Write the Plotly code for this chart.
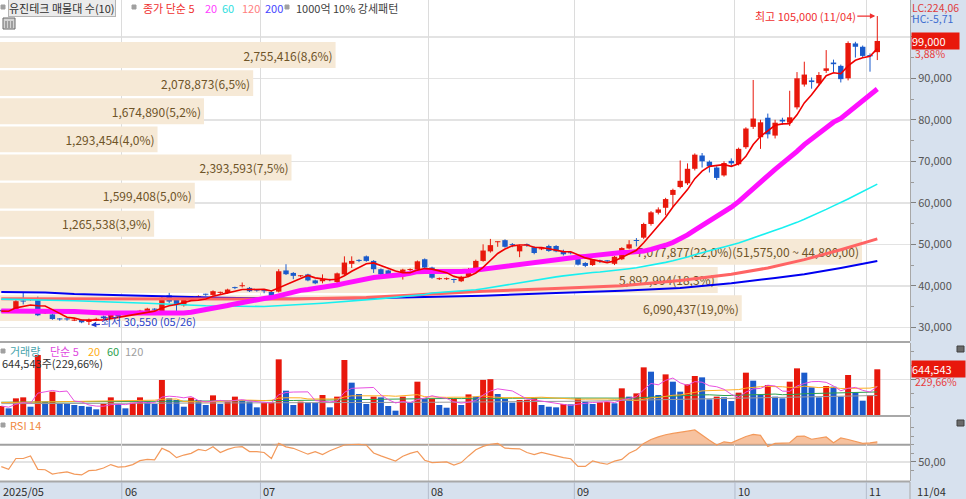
import numpy as np
import pandas as pd
import plotly.graph_objects as go

FONT = "Noto Sans CJK KR"
W, H = 966, 499
PR = 910  # right edge of the plotting area (px)

# ---------------- data ----------------
holidays = ["2025-05-05", "2025-05-06", "2025-06-03", "2025-06-06", "2025-08-15",
            "2025-10-03", "2025-10-06", "2025-10-07", "2025-10-08", "2025-10-09"]
dates = [d for d in pd.bdate_range("2025-05-08", "2025-11-04")
         if d.strftime("%Y-%m-%d") not in holidays]

opens = [34000,33900,33800,36400,36600,36900,33400,33100,32000,32000,
         31600,31800,31300,31800,32600,32200,33500,33100,33500,33400,
         33500,34350,33900,37700,36700,35300,36600,36700,37900,37800,
         38300,38300,39500,39900,39500,38900,38800,38500,38600,43700,
         43100,42300,42750,41300,41100,41500,40900,42750,45300,46100,
         47100,46000,44000,43700,42700,42300,43800,43900,46400,44400,
         41600,41600,41500,41100,42350,44050,46000,48300,50500,51000,
         49900,48300,49900,49300,48800,49600,49600,48400,47950,47200,
         45500,45000,46100,46000,45300,46400,49000,51000,51600,54900,
         57600,58800,61900,63800,64700,68200,71400,69900,68500,66600,
         70100,69300,73400,78300,75800,80500,76200,80000,79300,83000,
         88500,89500,88800,91800,93800,93000,90000,98400,97600,95600,
         96300]
highs = [34300,34100,36700,38300,36900,37400,33700,33300,32200,32200,
         32000,31900,32100,32300,32800,33500,33700,33500,33800,34200,
         34700,34600,37300,38300,36900,36900,37000,37700,38100,38900,
         38600,39300,39800,40800,39700,39100,39100,38700,44000,45200,
         43300,42600,42900,41500,42750,41700,43200,47100,47100,46400,
         47300,46200,44200,43900,42900,44100,44200,46100,46600,44600,
         42000,42000,41700,42400,44300,46300,50000,51300,50700,51200,
         50300,49900,50200,49500,49200,49900,49800,48700,48200,47400,
         45700,46400,46300,46200,47200,49300,51000,51500,55200,58000,
         58900,61200,63400,70200,69500,71900,72000,70200,68800,70000,
         70700,73300,78200,89600,80000,81500,80000,80500,87000,91500,
         94000,90200,91500,96800,94500,93300,98900,98800,97900,96000,
         105000]
lows = [33600,33700,33600,35500,36400,32700,33200,31800,31600,31600,
        31500,31000,30550,31500,32000,32000,32300,32900,33200,33200,
        33300,34000,33700,35800,33000,35000,36400,36500,37600,37600,
        38000,38100,39200,39600,38500,38600,38200,37400,38400,42600,
        41600,42100,41100,40400,40600,41100,40600,42500,44300,45700,
        45800,43100,42500,42300,42400,41500,43500,43700,44200,41700,
        41400,41400,40700,40900,42100,43900,45800,48000,49400,49200,
        49300,46900,49400,47600,48600,48200,48100,47300,47600,44900,
        44500,44800,45500,45600,45000,46200,48800,49500,51300,54500,
        57200,57000,59000,63500,64300,67800,68500,67300,65500,66300,
        68900,69000,73000,77800,73000,75500,75500,78800,78500,82500,
        88000,87500,88300,91300,91500,89000,89500,95000,95000,91600,
        94400]
closes = [33900,33850,36300,36200,36700,32900,33500,32000,31900,31900,
          31800,31200,31800,32000,32200,33300,32600,33300,33450,34000,
          34500,34250,37100,36200,35400,36700,36750,37500,37850,38700,
          38350,39100,39450,40000,38700,38850,38700,37600,43500,42800,
          42400,42450,41300,40600,41600,41400,43000,45600,46000,46000,
          46000,44000,42750,42550,42600,43900,43950,45900,44400,41950,
          41800,41800,41400,42200,44050,46000,48500,49800,50600,49400,
          49800,49600,49800,47900,48950,48400,48300,47600,47850,45100,
          44800,46200,45900,45900,47000,49100,50000,50800,54900,57700,
          58400,60900,63100,65300,68200,71600,70000,68800,66000,69600,
          69500,73000,77900,80300,79400,76500,79300,79600,80600,90000,
          90900,89100,90800,92400,93400,89800,98500,97600,95400,95300,
          99000]
volumes = [127000,94000,235000,249000,117000,846000,188000,329000,165000,160000,
           141000,127000,117000,80000,155000,249000,155000,94000,174000,249000,
           193000,155000,494000,235000,212000,117000,244000,212000,141000,277000,
           155000,188000,259000,202000,188000,108000,174000,176000,785000,343000,
           141000,188000,174000,170000,282000,108000,259000,776000,456000,296000,
           155000,259000,249000,127000,61000,259000,174000,470000,225000,230000,
           141000,103000,226000,141000,291000,259000,495000,505000,296000,226000,
           174000,212000,215000,235000,141000,117000,108000,155000,150000,235000,
           188000,155000,180000,185000,165000,376000,259000,305000,672000,611000,
           282000,573000,470000,329000,432000,550000,531000,221000,259000,250000,
           197000,315000,597000,484000,282000,423000,259000,235000,470000,658000,
           597000,390000,249000,409000,400000,259000,564000,315000,202000,280651,
           644543]
rsi = [44.6,41.5,54,54,57,41.5,41,36,37.5,38.5,
       36,35,40,40.5,43,47,44,44.6,47,51.5,
       53,52.5,65.8,62,55,58,60,64.5,63,67.7,
       61,64.6,67,67.7,62,62,61,54,71.6,67.5,
       65.8,62,59,62,58.5,63,66,69.6,70.2,70.4,
       69.6,60.4,57,54,51.1,56.7,60,62.2,52,49.3,
       49.8,50,46.3,49.3,57,64.1,68,70.5,71.5,65.9,
       65.5,65.2,61,58.5,61.1,59,57.5,55,53.7,44.8,
       44.8,51.1,49,47.4,51,53,60,64.1,71.5,76,
       79,81.5,83,84,85.6,87,80.7,75,69.6,73.3,
       72.2,76,79.5,81.9,80.7,67.8,71.5,71.8,72.2,79.6,
       80,76.3,77.5,78.9,72.2,77.8,76,73.3,71.5,72,73.3]

ma20_head_x = [0, 5, 10, 14, 18]
ma20_head = [33900, 34000, 33800, 33450, 33450]
ma60_head_x = [0, 10, 20, 28, 36, 44, 52, 58]
ma60_head = [36800, 36400, 35800, 35200, 35000, 35800, 36900, 37900]
ma120_x = [0, 20, 40, 50, 58, 66, 75, 85, 93, 100, 105, 110, 115, 120]
ma120 = [36900, 36800, 36800, 37200, 37900, 38700, 39300, 40000, 41300, 42800, 44300, 46300, 48700, 51300]
ma200_x = [0, 6, 10, 22, 30, 40, 50, 58, 66, 75, 85, 93, 100, 106, 110, 115, 120]
ma200 = [38500, 38400, 38000, 37500, 37100, 36900, 37000, 37300, 37600, 38200, 38800, 39500, 40600, 41900, 42800, 44300, 46000]
vma20_head_x = [0, 6, 12, 18]
vma20_head = [175000, 185000, 195000, 200000]
vma60_head_x = [0, 20, 40, 58]
vma60_head = [180000, 190000, 205000, 230000]
vma120_x = [0, 30, 60, 80, 98, 110, 120]
vma120 = [160000, 165000, 180000, 195000, 235000, 255000, 275000]

# volume profile (매물대), 10 price bands
vp_lo = [31250, 38025, 44800, 51575, 58350, 65125, 71900, 78675, 85450, 92225]
vp_step = 6775
vp_vol = [6090437, 5892994, 7077877, 1265538, 1599408, 2393593, 1293454, 1674890, 2078873, 2755416]

price_ticks = [30000, 40000, 50000, 60000, 70000, 80000, 90000, 100000]
price_tick_labels = ["30,000", "40,000", "50,000", "60,000", "70,000", "80,000", "90,000", "100,000"]
rsi_ticks = [50]
rsi_tick_labels = ["50,00"]

# ---------------- geometry / style ----------------
n = len(dates)
idx = list(range(n))
RED = "#e8180c"
BLUE = "#1b5bcb"
X_LO, X_HI = -0.18, 124.48
P_LO, P_HI = 26700, 108870
V_HI = 1015500
R_LO, R_HI = 28, 102
VP_MAX = 7472000


def py(y):
    return 1 - y / H


def pxf(x):
    return x / W


D_PRICE = [py(341), 1]
D_VOL = [py(415), py(343)]
D_RSI = [py(481), py(417)]
XDOM = [0, PR / W]

month_bounds = [i - 0.5 for i in range(1, n) if dates[i].month != dates[i - 1].month]
month_labels = [f"{dates[0].year}/{dates[0].month:02d}"] + \
               [f"{dates[i].month:02d}" for i in range(1, n) if dates[i].month != dates[i - 1].month]

fig = go.Figure()

# volume profile bars (base axis, drawn below candles)
total = sum(vp_vol)
vp_text = []
for lo, v in zip(vp_lo, vp_vol):
    pct = f"{v / total * 100:.1f}".replace(".", ",")
    t = f"{v:,}({pct}%)"
    if v == max(vp_vol):
        t += f"({lo + vp_step:,},00 ~ {lo:,},00)"
    vp_text.append(t)
fig.add_trace(go.Bar(
    x=vp_vol, y=[lo + vp_step / 2 for lo in vp_lo], orientation="h",
    width=vp_step * 0.92, marker=dict(color="#f6e9d6", line=dict(width=0)),
    text=vp_text, textposition="inside", insidetextanchor="end", textangle=0,
    constraintext="none",
    textfont=dict(color="#6e5428", size=12, family=FONT),
    insidetextfont=dict(color="#6e5428", size=12, family=FONT),
    xaxis="x", yaxis="y", hoverinfo="skip"))

# candles
up = [c >= o for o, c in zip(opens, closes)]
for flag, col in ((True, RED), (False, BLUE)):
    xs, ys = [], []
    for i in idx:
        if up[i] == flag:
            xs += [i, i, None]
            ys += [lows[i], highs[i], None]
    fig.add_trace(go.Scatter(x=xs, y=ys, mode="lines", line=dict(color=col, width=1),
                             xaxis="x2", yaxis="y", hoverinfo="skip"))
body_base = [min(o, c) for o, c in zip(opens, closes)]
body_h = [max(abs(c - o), 240) for o, c in zip(opens, closes)]
fig.add_trace(go.Bar(x=idx, y=body_h, base=body_base, width=0.74,
                     marker=dict(color=[RED if u else BLUE for u in up], line=dict(width=0)),
                     xaxis="x2", yaxis="y", hoverinfo="skip"))

cs = pd.Series(closes, dtype=float)
ma5 = cs.rolling(5, min_periods=1).mean()
ma20c = cs.rolling(20).mean()
ma60c = cs.rolling(60).mean()
ma20_x = ma20_head_x + idx[19:]
ma20_y = ma20_head + list(ma20c[19:])
ma60_x = ma60_head_x + idx[59:]
ma60_y = ma60_head + list(ma60c[59:])

fig.add_trace(go.Scatter(x=ma200_x, y=ma200, mode="lines", line=dict(color="#0000f0", width=2),
                         xaxis="x2", yaxis="y", hoverinfo="skip"))
fig.add_trace(go.Scatter(x=ma120_x, y=ma120, mode="lines", line=dict(color="#ff6464", width=3),
                         xaxis="x2", yaxis="y", hoverinfo="skip"))
fig.add_trace(go.Scatter(x=ma60_x, y=ma60_y, mode="lines", line=dict(color="#18f0f0", width=1.6),
                         xaxis="x2", yaxis="y", hoverinfo="skip"))
fig.add_trace(go.Scatter(x=ma20_x, y=ma20_y, mode="lines", line=dict(color="#ff10ff", width=5),
                         xaxis="x2", yaxis="y", hoverinfo="skip"))
fig.add_trace(go.Scatter(x=idx, y=list(ma5), mode="lines", line=dict(color="#f00000", width=1.6),
                         xaxis="x2", yaxis="y", hoverinfo="skip"))

# volume
vcol = [RED] + [RED if volumes[i] >= volumes[i - 1] else BLUE for i in range(1, n)]
fig.add_trace(go.Bar(x=idx, y=volumes, width=0.82,
                     marker=dict(color=vcol, line=dict(width=0)),
                     xaxis="x3", yaxis="y3", hoverinfo="skip"))
vs = pd.Series(volumes, dtype=float)
vma5 = vs.rolling(5, min_periods=1).mean()
vma20c = vs.rolling(20).mean()
vma60c = vs.rolling(60).mean()
fig.add_trace(go.Scatter(x=vma120_x, y=vma120, mode="lines", line=dict(color="#9a9a9a", width=1),
                         xaxis="x3", yaxis="y3", hoverinfo="skip"))
fig.add_trace(go.Scatter(x=vma60_head_x + idx[59:], y=vma60_head + list(vma60c[59:]), mode="lines",
                         line=dict(color="#2ea04e", width=1), xaxis="x3", yaxis="y3", hoverinfo="skip"))
fig.add_trace(go.Scatter(x=vma20_head_x + idx[19:], y=vma20_head + list(vma20c[19:]), mode="lines",
                         line=dict(color="#ffae20", width=1), xaxis="x3", yaxis="y3", hoverinfo="skip"))
fig.add_trace(go.Scatter(x=idx, y=list(vma5), mode="lines", line=dict(color="#e850e0", width=1),
                         xaxis="x3", yaxis="y3", hoverinfo="skip"))

# RSI
RSI_HI_LEVEL = 70
fig.add_trace(go.Scatter(x=idx, y=[RSI_HI_LEVEL] * n, mode="lines", line=dict(width=0),
                         xaxis="x4", yaxis="y4", hoverinfo="skip"))
fig.add_trace(go.Scatter(x=idx, y=[max(r, RSI_HI_LEVEL) for r in rsi], mode="lines",
                         line=dict(width=0), fill="tonexty", fillcolor="rgba(244,168,118,0.7)",
                         xaxis="x4", yaxis="y4", hoverinfo="skip"))
fig.add_trace(go.Scatter(x=idx, y=rsi, mode="lines", line=dict(color="#f3995a", width=1.2),
                         xaxis="x4", yaxis="y4", hoverinfo="skip"))

# ---------------- axes ----------------
xcommon = dict(range=[X_LO, X_HI], tickmode="array", tickvals=month_bounds, showticklabels=False,
               ticks="", showgrid=True, gridcolor="#dcdcdc", gridwidth=1, zeroline=False,
               showline=False, fixedrange=True)
ycommon = dict(side="right", ticks="outside", ticklen=5, tickcolor="#808080",
               tickfont=dict(size=11, color="#555555", family=FONT), showgrid=True,
               gridcolor="#e3e3e3", gridwidth=1.5, showline=True, linecolor="#a8a8a8",
               linewidth=1, zeroline=False, fixedrange=True, tickmode="array", automargin=False)

fig.update_layout(
    width=W, height=H, margin=dict(l=0, r=0, t=0, b=0, pad=0), autosize=False,
    paper_bgcolor="#d7e1ee", plot_bgcolor="#ffffff",
    showlegend=False, barmode="overlay",
    font=dict(family=FONT, size=11, color="#404040"),
    xaxis=dict(domain=XDOM, range=[0, VP_MAX], visible=False, anchor="y", fixedrange=True),
    xaxis2=dict(overlaying="x", anchor="y", **xcommon),
    xaxis3=dict(domain=XDOM, anchor="y3", **xcommon),
    xaxis4=dict(domain=XDOM, anchor="y4", **xcommon),
    yaxis=dict(domain=D_PRICE, range=[P_LO, P_HI], anchor="x", tickvals=price_ticks,
               ticktext=price_tick_labels,
               minor=dict(tickmode="array", tickvals=[t + 5000 for t in price_ticks],
                          ticks="outside", ticklen=3, tickcolor="#9a9a9a", showgrid=False),
               **ycommon),
    yaxis3=dict(domain=D_VOL, range=[0, V_HI], anchor="x3", tickvals=[500000], ticktext=[""],
                minor=dict(tickmode="array", tickvals=[100000, 300000, 700000, 900000],
                           ticks="outside", ticklen=3, tickcolor="#9a9a9a", showgrid=False),
                **ycommon),
    yaxis4=dict(domain=D_RSI, range=[R_LO, R_HI], anchor="x4", tickvals=rsi_ticks,
                ticktext=rsi_tick_labels,
                minor=dict(tickmode="array", tickvals=[40, 60, 70, 80, 90],
                           ticks="outside", ticklen=3, tickcolor="#9a9a9a", showgrid=False),
                **ycommon),
)

# ---------------- shapes ----------------
shapes = []
shapes.append(dict(type="line", xref="paper", yref="y4", x0=0, x1=PR / W, y0=RSI_HI_LEVEL,
                   y1=RSI_HI_LEVEL, line=dict(color="#a0a0a0", width=2), layer="below"))
for yy in (342, 416, 481.5):
    shapes.append(dict(type="line", xref="paper", yref="paper", x0=0, x1=PR / W,
                       y0=py(yy), y1=py(yy), line=dict(color="#a8a8a8", width=2)))
for b in month_bounds:
    shapes.append(dict(type="line", xref="x4", yref="paper", x0=b, x1=b, y0=0, y1=py(482),
                       line=dict(color="#b4bccb", width=1)))
shapes.append(dict(type="line", xref="paper", yref="paper", x0=PR / W, x1=PR / W, y0=0, y1=py(482),
                   line=dict(color="#a8a8a8", width=1)))


def rect(x0, y0, x1, y1, fill, line="#808080"):
    shapes.append(dict(type="rect", xref="paper", yref="paper", x0=pxf(x0), x1=pxf(x1),
                       y0=py(y1), y1=py(y0), fillcolor=fill, line=dict(color=line, width=1)))


rect(1, 5, 5, 9, "#a0a0a0", "#a0a0a0")
rect(132, 5, 136, 9, "#a0a0a0", "#a0a0a0")
rect(285, 5, 289, 9, "#a0a0a0", "#a0a0a0")
rect(3, 18, 15, 29, "#d4d4d4", "#686868")
for xx in (6, 9, 12):
    shapes.append(dict(type="line", xref="paper", yref="paper", x0=pxf(xx), x1=pxf(xx),
                       y0=py(28), y1=py(21), line=dict(color="#686868", width=1)))
rect(1, 349, 5, 353, "#a0a0a0", "#a0a0a0")
rect(1, 423, 5, 427, "#a0a0a0", "#a0a0a0")
rect(957, 346, 964, 352, "#6a6a6a", "#404040")
rect(957, 420, 964, 426, "#6a6a6a", "#404040")
fig.update_layout(shapes=shapes)


# ---------------- texts ----------------
def ann(x, y, text, color, size=11, xanchor="left", **kw):
    fig.add_annotation(x=pxf(x), y=py(y), xref="paper", yref="paper", text=text,
                       showarrow=False, xanchor=xanchor, yanchor="middle",
                       font=dict(family=FONT, size=size, color=color), **kw)


ann(8, 8, "유진테크 매물대 수(10)", "#303030", bgcolor="#ebebeb", bordercolor="#b4b4b4",
    borderwidth=1, borderpad=0)
ann(141, 8, "종가 단순 5", "#f03030")
ann(203, 8, "20", "#ff40ff")
ann(220, 8, "60", "#30dede")
ann(240, 8, "120", "#ff8080")
ann(263, 8, "200", "#4646ff")
ann(294, 8, "1000억 10% 강세패턴", "#404040")

vol_pct = volumes[-1] / volumes[-2] * 100
ann(8, 351, "거래량", "#48a4ac")
ann(48, 351, "단순 5", "#e048e0")
ann(86, 351, "20", "#ffae20")
ann(105, 351, "60", "#2ea04e")
ann(123, 351, "120", "#a0a0a0")
ann(0, 363, f"{volumes[-1]:,}주({vol_pct:.2f}%)".replace(".", ","), "#303030")
ann(8, 425, "RSI 14", "#f08840")

lo_i = int(np.argmin(lows))
hi_i = int(np.argmax(highs))
last = closes[-1]
lc = (last / lows[lo_i] - 1) * 100
hc = (last / highs[hi_i] - 1) * 100
chg = (closes[-1] / closes[-2] - 1) * 100
ann(910, 7.5, f"LC:{lc:.2f}".replace(".", ","), "#e03c3c", size=10.5)
ann(910, 18.5, f"HC:{hc:.2f}".replace(".", ","), "#3c6cd0", size=10.5)
fig.add_annotation(x=pxf(911), y=last, xref="paper", yref="y", text=f"{last:,}", showarrow=False,
                   xanchor="left", yanchor="middle", bgcolor=RED, borderpad=0, width=47, align="left",
                   font=dict(family=FONT, size=11, color="#ffffff"))
ann(913, 53.5, f"{chg:.2f}%".replace(".", ","), "#e83c3c", size=10.5)
fig.add_annotation(x=pxf(911), y=volumes[-1], xref="paper", yref="y3", text=f"{volumes[-1]:,}",
                   showarrow=False, xanchor="left", yanchor="middle", bgcolor=RED, borderpad=0,
                   width=53, align="left", font=dict(family=FONT, size=11, color="#ffffff"))
ann(913, 381, f"{vol_pct:.2f}%".replace(".", ","), "#e83c3c", size=10.5)

fig.add_annotation(x=hi_i, y=highs[hi_i], xref="x2", yref="y",
                   text=f"최고 {highs[hi_i]:,} ({dates[hi_i]:%m/%d})", showarrow=True,
                   ax=-72, ay=0, arrowhead=2, arrowsize=0.9, arrowwidth=1.2, arrowcolor="#f03030",
                   standoff=2, font=dict(family=FONT, size=11, color="#f03030"))
fig.add_annotation(x=lo_i, y=lows[lo_i], xref="x2", yref="y",
                   text=f"최저 {lows[lo_i]:,} ({dates[lo_i]:%m/%d})", showarrow=True,
                   ax=60, ay=-4, arrowhead=2, arrowsize=0.9, arrowwidth=1.2, arrowcolor="#2038d0",
                   standoff=2, font=dict(family=FONT, size=11, color="#2c44c8"))

fig.add_annotation(x=X_LO, y=py(491), xref="x4", yref="paper", text=month_labels[0], showarrow=False,
                   xanchor="left", yanchor="middle", xshift=1, font=dict(family=FONT, size=11, color="#303030"))
for b, lab in zip(month_bounds, month_labels[1:]):
    fig.add_annotation(x=b, y=py(491), xref="x4", yref="paper", text=lab, showarrow=False,
                       xanchor="left", yanchor="middle", xshift=1,
                       font=dict(family=FONT, size=11, color="#303030"))
ann(915, 491, f"{dates[-1]:%m/%d}", "#303030")

fig.write_html("out.html", config={"displayModeBar": False, "staticPlot": True},
               post_script="document.body.style.margin='0px';")
